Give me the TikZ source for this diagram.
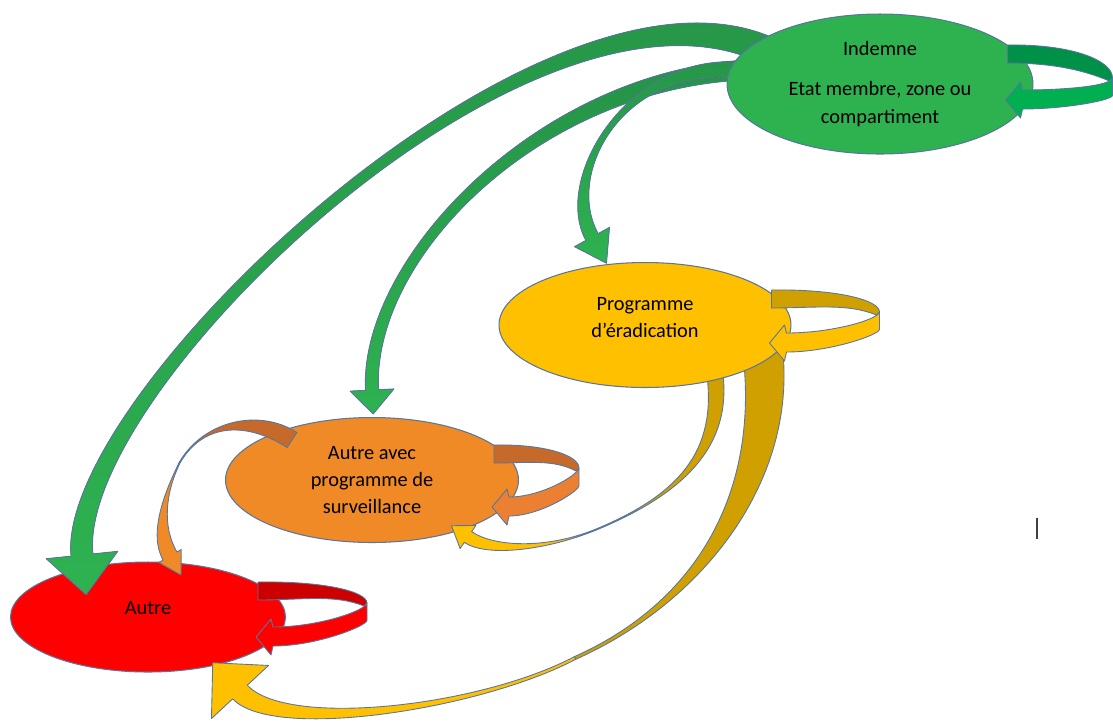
\documentclass[tikz,border=0pt]{standalone}
\usepackage{fontspec}
\setmainfont{Carlito}
\usetikzlibrary{calc, shapes.geometric}
\pgfdeclarelayer{under}
\pgfdeclarelayer{mid}
\pgfdeclarelayer{upper}
\pgfsetlayers{under,main,mid,upper}
\definecolor{rim}{RGB}{88,118,158}
\definecolor{grnfill}{RGB}{46,178,80}
\definecolor{grndark}{RGB}{36,146,70}
\definecolor{grnback}{RGB}{0,145,72}
\definecolor{grnfront}{RGB}{0,176,80}
\definecolor{yelfill}{RGB}{255,192,0}
\definecolor{yeldark}{RGB}{208,160,0}
\definecolor{orgfill}{RGB}{240,138,38}
\definecolor{orgdark}{RGB}{198,106,44}
\definecolor{orgfront}{RGB}{236,128,50}
\definecolor{redfill}{RGB}{255,0,0}
\definecolor{reddark}{RGB}{204,0,0}

% flat band: style, start, ctrl, ctrl, end, half width at start, half width at end (px)
\newcommand{\band}[7]{%
  \pgfmathsetmacro\rbA{#6*0.569}%
  \pgfmathsetmacro\rbB{#7*0.569}%
  \fill[#1, draw=rim, line width=0.5pt, line join=round]
    ($(#2)!\rbA pt!90:(#3)$) .. controls ($(#3)!\rbA pt!-90:(#2)$) and ($(#4)!\rbB pt!90:(#5)$) .. ($(#5)!\rbB pt!-90:(#4)$)
    -- ($(#5)!\rbB pt!90:(#4)$) .. controls ($(#4)!\rbB pt!-90:(#5)$) and ($(#3)!\rbA pt!90:(#2)$) .. ($(#2)!\rbA pt!-90:(#3)$) -- cycle;
}
% same band with an arrow head: + head half width, head length (px)
\newcommand{\ribbon}[9]{%
  \pgfmathsetmacro\rbA{#6*0.569}%
  \pgfmathsetmacro\rbB{#7*0.569}%
  \pgfmathsetmacro\rbH{#8*0.569}%
  \pgfmathsetmacro\rbL{#9*0.569}%
  \fill[#1, draw=rim, line width=0.5pt, line join=round]
    ($(#2)!\rbA pt!90:(#3)$) .. controls ($(#3)!\rbA pt!-90:(#2)$) and ($(#4)!\rbB pt!90:(#5)$) .. ($(#5)!\rbB pt!-90:(#4)$)
    -- ($(#5)!\rbH pt!-90:(#4)$) -- ($(#5)!-\rbL pt!(#4)$) -- ($(#5)!\rbH pt!90:(#4)$)
    -- ($(#5)!\rbB pt!90:(#4)$) .. controls ($(#4)!\rbB pt!-90:(#5)$) and ($(#3)!\rbA pt!90:(#2)$) .. ($(#2)!\rbA pt!-90:(#3)$) -- cycle;
}
% loop on the right of a state: node, back colour, front colour, start offset, reach, fold, front top
\newcommand{\selfloop}[7]{%
  \begin{scope}[shift={($(#1.east)+(#4)$)}]
    \fill[#2, draw=rim, line width=0.5pt, line join=round]
      (0,0) .. controls (0.6*#5,-1) and (#5,0.45*#6) .. (#5,#6)
      -- (#5-3,#6+3) .. controls (0.7*#5,#6-9) and (0.4*#5,18) .. (0,18) -- cycle;
    \fill[#3, draw=rim, line width=0.5pt, line join=round]
      (#5,#6) .. controls (#5-2,#6+8) and (0.55*#5,#7) .. (15,#7)
      -- (13,#7-8) -- (-2,#7+10) -- (13,#7+28) -- (15,#7+19)
      .. controls (0.55*#5,#7+19) and (#5+2,#6+22) .. (#5,#6+17) -- cycle;
  \end{scope}}

\begin{document}
\begin{tikzpicture}[
    x=0.02cm, y=-0.02cm,
    state/.style={ellipse, draw=rim, line width=0.6pt, align=center, inner sep=0pt,
        text=black, font=\fontsize{11.6}{15.4}\selectfont}
]
\useasboundingbox (0,0) rectangle (1113,725);

\node[state, fill=redfill, minimum width=5.5cm, minimum height=2.2cm, text depth=10pt] (other) at (148,617) {Autre};
\node[state, fill=orgfill, minimum width=5.86cm, minimum height=2.5cm] (surv) at (372,480)
    {Autre avec\\programme de\\surveillance};
\node[state, fill=yelfill, minimum width=5.84cm, minimum height=2.5cm, text depth=8.5pt] (erad) at (645,325)
    {Programme\\d’éradication};
\begin{pgfonlayer}{upper}
\node[state, fill=grnfill, minimum width=6.12cm, minimum height=2.8cm] (free) at (880,84)
    {Indemne\\[7.4pt]Etat membre, zone ou\\compartiment};
\end{pgfonlayer}

\coordinate (g2r-a) at ($(free.center)+(-95,-24)$);
\coordinate (g2r-b) at ($(other.center)+(-66,-62)$);
\coordinate (g2o-a) at ($(free.center)+(-100,-14)$);
\coordinate (g2o-b) at ($(surv.center)+(0,-90)$);
\coordinate (g2y-a) at ($(free.center)+(-105,-6)$);
\coordinate (g2y-b) at ($(erad.center)+(-53,-88)$);
\coordinate (y2o-a) at ($(erad.center)+(70,50)$);
\coordinate (y2o-t) at (595,530);
\coordinate (y2o-b) at ($(surv.center)+(96,57)$);
\coordinate (y2r-a) at ($(erad.center)+(117,20)$);
\coordinate (y2r-t) at (575,658);
\coordinate (y2r-b) at ($(other.center)+(92,75)$);
\coordinate (o2r-a) at ($(surv.center)+(-80,-40)$);
\coordinate (o2r-t) at (180,462);
\coordinate (o2r-b) at ($(other.center)+(22,-61)$);

\begin{pgfonlayer}{under}
\band{yeldark}{y2o-a}{724,450}{680,495}{y2o-t}{8}{0.5}
\band{yeldark}{y2r-a}{780,480}{705,600}{y2r-t}{20}{1.5}
\end{pgfonlayer}

\begin{pgfonlayer}{mid}
\ribbon{top color=grndark, bottom color=grnfill}{g2r-a}{560,-80}{65,390}{g2r-b}{14}{11}{36}{40}
\ribbon{top color=grndark, bottom color=grnfill}{g2o-a}{560,60}{365,250}{g2o-b}{10}{6.5}{22}{24}
\ribbon{top color=grndark, bottom color=grnfill}{g2y-a}{640,35}{555,170}{g2y-b}{9}{7}{20}{30}
\end{pgfonlayer}

\begin{pgfonlayer}{upper}
\ribbon{yelfill}{y2o-t}{545,550}{490,552}{y2o-b}{0.5}{6.5}{14}{20}
\ribbon{yelfill}{y2r-t}{480,708}{280,735}{y2r-b}{1.5}{10}{39}{40}
\band{orgdark}{o2r-a}{255,416}{205,420}{o2r-t}{9}{0.5}
\ribbon{orgfill}{o2r-t}{165,492}{155,530}{o2r-b}{0.5}{8}{13}{22}

\selfloop{free}{grnback}{grnfront}{-26,-39}{105}{33}{45}
\selfloop{erad}{yeldark}{yelfill}{-20,-35}{108}{22}{43}
\selfloop{surv}{orgdark}{orgfront}{-25,-35}{85}{23}{52}
\selfloop{other}{reddark}{redfill}{-28,-35}{109}{21}{45}

\draw[black!75, line width=0.7pt] (1037,518) -- (1037,539);
\end{pgfonlayer}
\end{tikzpicture}
\end{document}
